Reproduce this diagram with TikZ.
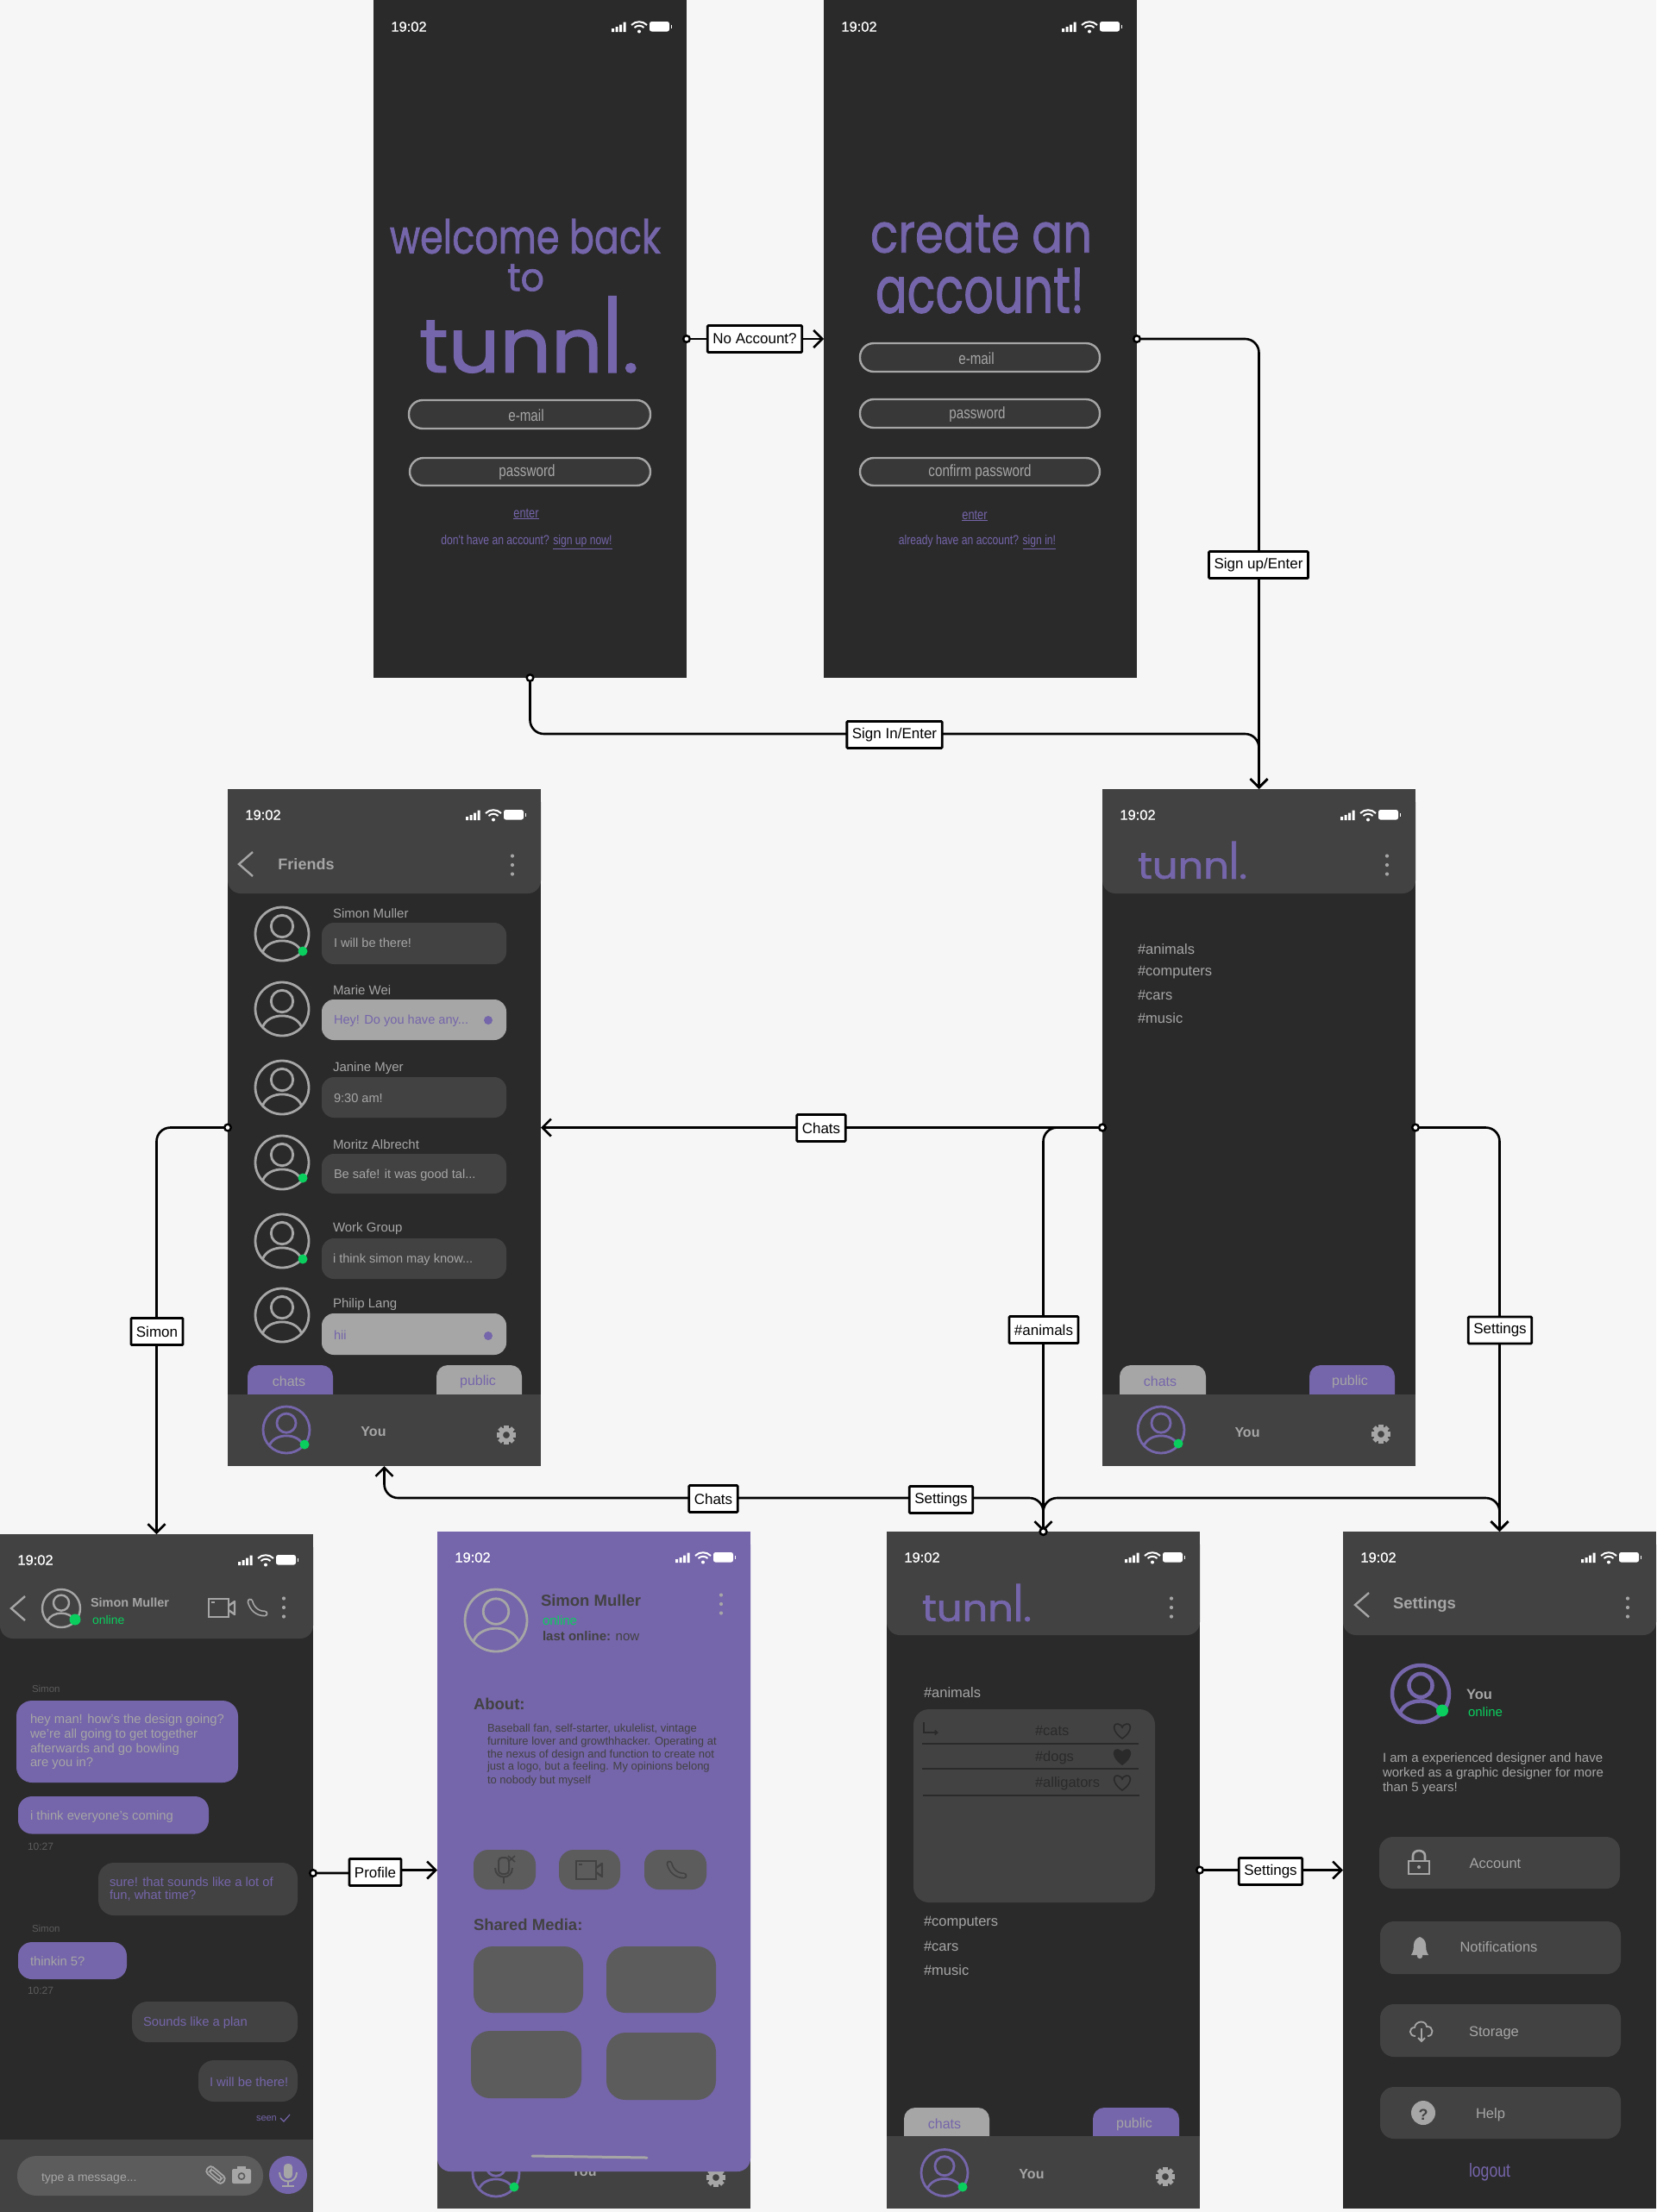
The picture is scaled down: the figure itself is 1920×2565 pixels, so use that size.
\documentclass[tikz,border=0pt]{standalone}
\usepackage{fontspec}
\usetikzlibrary{arrows.meta}
\setmainfont{Liberation Sans}
\newfontfamily\narrowf[FakeStretch=0.8]{Liberation Sans}
\newfontfamily\disp[FakeBold=1.5]{Poppins}
\newfontfamily\stf[FakeBold=0.6]{Liberation Sans}
\definecolor{bgc}{HTML}{F6F6F6}
\definecolor{cdk}{HTML}{2A2A2A}
\definecolor{cpn}{HTML}{424242}
\definecolor{cfd}{HTML}{383838}
\definecolor{cmd}{HTML}{5C5C5C}
\definecolor{cgr}{HTML}{A6A6A6}
\definecolor{pur}{HTML}{7565AA}
\definecolor{grn}{HTML}{0ACF5E}
\tikzset{
 phone/.style={anchor=north west,inner sep=0,outer sep=0,minimum width=363pt,fill=cdk},
 tx/.style={inner sep=0,outer sep=0,yshift=-1pt},
 fs/.style={font=\fontsize{#1}{#1}\selectfont},
 bfs/.style={font=\bfseries\fontsize{#1}{#1}\selectfont},
 nfs/.style={font=\narrowf\fontsize{#1}{#1}\selectfont},
 lf/.style={anchor=west},
 conn/.style={draw=black,line width=2.6pt,rounded corners=16pt,shorten <=-5pt,
   {Circle[open,fill=white,length=10pt,width=10pt,line width=2.4pt]}-{Straight Barb[length=10pt,width=20pt,line width=2.6pt]}},
 lab/.style={draw=black,fill=white,line width=2.8pt,rounded corners=1pt,inner xsep=6pt,inner ysep=0pt,minimum height=31pt,font=\fontsize{17}{17}\selectfont,text=black},
 fld/.style={fill=cfd,draw=cgr,line width=2.4pt,rounded corners=16pt},
}
\newcounter{tn}
\newcommand\T[3][]{\stepcounter{tn}\node[tx,#1] (t\thetn) at (#2) {#3};}
\newcommand\disptext[5]{\stepcounter{tn}\node[tx,yshift=1pt,text=pur] (t\thetn) at (#1,#2) {\resizebox{#3pt}{#4pt}{\disp #5}};}
\newcommand\logotext{tunn\scalebox{1}[1.36]{l}.}
\newcommand\undl[1]{$\underline{\hbox{#1}}$}
\newcommand\status[2]{%
 \T[font=\stf\fontsize{16.5}{16.5}\selectfont,text=white]{#1+41,#2+29}{19:02}
 \begin{scope}[shift={(#1,#2)}]
  \fill[white] (276,32) rectangle (279,36) (280.5,30) rectangle (283.5,36) (285,27.5) rectangle (288,36) (289.5,24.5) rectangle (292.5,36);
  \draw[white,line width=2pt] (299,28) .. controls (304,23) and (312,23) .. (317,28);
  \draw[white,line width=2pt] (302.5,31) .. controls (306,28) and (310,28) .. (313.5,31);
  \fill[white] (308,35.5) circle (2);
  \fill[white,rounded corners=2.5pt] (320,24) rectangle (343,35.5);
  \fill[white] (344.5,27.5) rectangle (346,32);
 \end{scope}}
\newcommand\hdr[3]{\fill[cpn,rounded corners=15pt] (#1,#2) rectangle ({#1+363},#3);\fill[cpn] (#1,#2) rectangle ({#1+363},{#2+30});}
\newcommand\ftr[3]{\fill[cpn] (#1,#2) rectangle ({#1+363},#3);}
\newcommand\tabb[4]{\fill[#4,rounded corners=13pt] (#1,#3) rectangle (#2,{#3+50});}
\newcommand\kebab[3]{\fill[#3] (#1,{#2-10.5}) circle (2.1) (#1,#2) circle (2.1) (#1,{#2+10.5}) circle (2.1);}
\newcommand\chev[2]{\draw[cgr,line width=2.4pt] ({#1+16},{#2-14}) -- (#1,#2) -- ({#1+16},{#2+14});}
\newcommand\avatar[5]{\begin{scope}[shift={(#1,#2)},x=#3pt,y=#3pt]
  \draw[#4,line width=#5pt] (0,0) circle (1);
  \draw[#4,line width=#5pt] (0,.29) ellipse (.41 and .41);
  \draw[#4,line width=#5pt] (-.72,-.66) .. controls (-.5,-.12) and (.5,-.12) .. (.72,-.66);
 \end{scope}}
\newcommand\grnd[3]{\fill[grn] (#1,#2) circle (#3);}
\newcommand\gear[2]{\begin{scope}[shift={(#1,#2)}]
  \draw[cgr,line width=4.6pt] (0,0) circle (6.2);
  \foreach \a in {0,45,...,315}{\fill[cgr,rotate=\a] (-2.6,6) rectangle (2.6,11.2);}
 \end{scope}}
\newcommand\heart[3]{\begin{scope}[shift={(#1,#2)}]
 \draw[cdk,line width=1.6pt,fill=#3] (0,9) .. controls (-12,1) and (-11,-9) .. (-5,-8) .. controls (-2,-8) and (0,-5) .. (0,-4) .. controls (0,-5) and (2,-8) .. (5,-8) .. controls (11,-9) and (12,1) .. (0,9) -- cycle;
 \end{scope}}
\newcommand\handset[4]{\begin{scope}[shift={(#1,#2)}]
 \draw[#3,line width=7pt,line cap=round] (-8,-7) .. controls (-6,1) and (0,7) .. (9,7);
 \draw[#4,line width=3.6pt,line cap=round] (-8,-7) .. controls (-6,1) and (0,7) .. (9,7);
 \end{scope}}
\newcommand\video[3]{\begin{scope}[shift={(#1,#2)}]
 \draw[#3,line width=2.4pt] (-15,-10) rectangle (8,11);
 \draw[#3,line width=2.4pt,line join=round] (8,-2) -- (15,-7) -- (15,8) -- (8,3);
 \draw[#3,line width=2pt] (-12,-6) -- (-8,-6);
 \end{scope}}
\begin{document}
\begin{tikzpicture}[x=1pt,y=-1pt]
\useasboundingbox (0,0) rectangle (1920,2565);
\fill[bgc] (0,0) rectangle (1920,2565);
% phones
\node[phone,minimum height=786pt] (pA) at (433,0) {};
\node[phone,minimum height=786pt] (pB) at (955,0) {};
\node[phone,minimum height=785pt] (pF) at (264,915) {};
\node[phone,minimum height=785pt] (pT) at (1278,915) {};
\node[phone,minimum height=786pt] (pC) at (0,1779) {};
\node[phone,minimum height=785pt,fill=cpn] (pP) at (507,1776) {};
\node[phone,minimum height=785pt] (pG) at (1028,1776) {};
\node[phone,minimum height=785pt] (pS) at (1557,1776) {};
%% Phone A
\status{433}{1}
\disptext{609}{274}{314}{40}{welcome back}
\disptext{609.5}{322}{43}{31}{to}
\disptext{613.5}{388}{255}{88}{\logotext}
\draw[fld] (474,464) rectangle (754,497);
\draw[fld] (475,531) rectangle (754,563);
\T[nfs=19,text=cgr]{610,481}{e-mail}
\T[nfs=19,text=cgr]{611,547}{password}
\T[nfs=16,text=pur]{610,595}{\undl{enter}}
\T[nfs=15.2,text=pur]{610.5,628}{don't have an account? \undl{sign up now!}}
%% Phone B
\status{955}{1}
\disptext{1137.5}{271.5}{257}{43}{create an}
\disptext{1136}{337}{242}{52}{account!}
\draw[fld] (997,398) rectangle (1275,431);
\draw[fld] (997,463) rectangle (1275,496);
\draw[fld] (997,531) rectangle (1275,563);
\T[nfs=19,text=cgr]{1132,415}{e-mail}
\T[nfs=19,text=cgr]{1133,480}{password}
\T[nfs=19,text=cgr]{1136,547}{confirm password}
\T[nfs=16,text=pur]{1130,597}{\undl{enter}}
\T[nfs=15.2,text=pur]{1133,628}{already have an account? \undl{sign in!}}
%% Phone F (friends)
\hdr{264}{915}{1036}
\status{264}{915}
\chev{277}{1002}
\T[bfs=18,text=cgr]{355,1001}{Friends}
\kebab{594}{1003}{cgr}
\foreach \yy in {1083,1170,1261,1348,1439,1525}{\avatar{327}{\yy}{31}{cgr}{2.8}}
\grnd{351}{1103}{5.5}\grnd{351}{1366}{5.5}\grnd{351}{1460}{5.5}
\T[fs=15,text=cgr,lf]{386,1058}{Simon Muller}
\T[fs=15,text=cgr,lf]{386,1147}{Marie Wei}
\T[fs=15,text=cgr,lf]{386,1238}{Janine Myer}
\T[fs=15,text=cgr,lf]{386,1326}{Moritz Albrecht}
\T[fs=15,text=cgr,lf]{386,1424}{Work Group}
\T[fs=15,text=cgr,lf]{386,1512}{Philip Lang}
\fill[cpn,rounded corners=14pt] (373,1070) rectangle (587,1118);
\fill[cgr,rounded corners=14pt] (373,1159) rectangle (587,1206);
\fill[cpn,rounded corners=14pt] (373,1249) rectangle (587,1296);
\fill[cpn,rounded corners=14pt] (373,1338) rectangle (587,1384);
\fill[cpn,rounded corners=14pt] (373,1436) rectangle (587,1483);
\fill[cgr,rounded corners=14pt] (373,1523) rectangle (587,1571);
\T[fs=14.6,text=cgr,lf]{387,1092}{I will be there!}
\T[fs=14.6,text=pur,lf]{387,1183}{Hey! Do you have any...}
\T[fs=14.6,text=cgr,lf]{387,1272}{9:30 am!}
\T[fs=14.6,text=cgr,lf]{387,1362}{Be safe! it was good tal...}
\T[fs=14.6,text=cgr,lf]{386,1460}{i think simon may know...}
\T[fs=14.6,text=pur,lf]{387,1547}{hii}
\fill[pur] (566,1183) circle (5) (566,1549) circle (5);
\tabb{287}{386}{1583}{pur}
\tabb{506}{605}{1583}{cgr}
\ftr{264}{1617}{1700}
\T[fs=16,text=cgr]{335,1601}{chats}
\T[fs=16,text=pur]{554,1601}{public}
\avatar{332}{1658}{27}{pur}{2.8}
\grnd{353}{1675}{5.5}
\T[bfs=16,text=cgr]{433,1659}{You}
\gear{587}{1664}
%% Phone T
\hdr{1278}{915}{1036}
\status{1278}{915}
\disptext{1382.5}{997.5}{127}{43}{\logotext}
\kebab{1608}{1003}{cgr}
\T[fs=16.5,text=cgr,lf]{1319,1100}{\#animals}
\T[fs=16.5,text=cgr,lf]{1319,1127}{\#computers}
\T[fs=16.5,text=cgr,lf]{1319,1153}{\#cars}
\T[fs=16.5,text=cgr,lf]{1319,1180}{\#music}
\tabb{1298}{1398}{1583}{cgr}
\tabb{1518}{1617}{1583}{pur}
\ftr{1278}{1617}{1700}
\T[fs=16,text=pur]{1345,1601}{chats}
\T[fs=16,text=cgr]{1565,1601}{public}
\avatar{1346}{1658}{27}{pur}{2.8}
\grnd{1366}{1674}{5.5}
\T[bfs=16,text=cgr]{1446,1660}{You}
\gear{1601}{1663}
%% Phone C (chat)
\hdr{0}{1779}{1900}
\status{0}{1779}
\chev{13}{1865}
\avatar{71}{1865}{22}{cgr}{2.4}
\grnd{87}{1878}{6.5}
\T[bfs=14.5,text=cgr,lf]{105,1857}{Simon Muller}
\T[fs=14,text=grn,lf]{107,1877.5}{online}
\video{257}{1864}{cgr}
\handset{298}{1864}{cgr}{cpn}
\kebab{329}{1864}{cgr}
\T[fs=11.5,text=cmd,lf]{37,1957}{Simon}
\fill[pur,rounded corners=18pt] (19,1972) rectangle (276,2067);
\T[fs=14.8,text=cgr,lf]{35,1994}{hey man! how's the design going?}
\T[fs=14.8,text=cgr,lf]{35,2011}{we're all going to get together}
\T[fs=14.8,text=cgr,lf]{35,2028}{afterwards and go bowling}
\T[fs=14.8,text=cgr,lf]{35,2044}{are you in?}
\fill[pur,rounded corners=16pt] (21,2083) rectangle (242,2126.5);
\T[fs=14.8,text=cgr,lf]{35,2106}{i think everyone's coming}
\T[fs=12,text=cmd,lf]{32,2140}{10:27}
\fill[cpn,rounded corners=18pt] (114,2160) rectangle (345,2221);
\T[fs=14.8,text=pur,lf]{127,2181}{sure! that sounds like a lot of}
\T[fs=14.8,text=pur,lf]{127,2197.5}{fun, what time?}
\T[fs=11.5,text=cmd,lf]{37,2235}{Simon}
\fill[pur,rounded corners=16pt] (21,2252) rectangle (147,2295);
\T[fs=14.8,text=cgr,lf]{35,2273}{thinkin 5?}
\T[fs=12,text=cmd,lf]{32,2307.5}{10:27}
\fill[cpn,rounded corners=18pt] (153,2321) rectangle (345,2368);
\T[fs=14.8,text=pur,lf]{166,2345}{Sounds like a plan}
\fill[cpn,rounded corners=18pt] (230,2389) rectangle (345,2437);
\T[fs=14.8,text=pur,lf]{243,2413}{I will be there!}
\T[fs=11,text=pur,lf]{297,2456}{seen}
\draw[pur,line width=1.2pt] (325,2456) -- (329,2460) -- (336,2452);
\fill[cpn] (0,2481) rectangle (363,2565);
\fill[cmd,rounded corners=22pt] (20,2500) rectangle (305,2546);
\T[fs=14,text=cgr,lf]{48,2525}{type a message...}
\begin{scope}[shift={(250,2522)},rotate=-40]
 \draw[cgr,line width=1.8pt,rounded corners=4pt] (-12,-5) rectangle (12,5);
 \draw[cgr,line width=1.6pt,rounded corners=2.5pt] (-8,-2) rectangle (8,2);
\end{scope}
\fill[cgr,rounded corners=2pt] (269,2515) rectangle (291,2532);
\fill[cgr] (275,2512) rectangle (285,2516);
\draw[cmd,line width=1.6pt] (280,2523.5) circle (3.6);
\fill[pur] (334,2522) circle (22);
\begin{scope}[shift={(334,2522)}]
 \fill[cgr,rounded corners=4pt] (-5,-13) rectangle (5,4);
 \draw[cgr,line width=2pt] (-10,-3) .. controls (-10,11) and (10,11) .. (10,-3);
 \draw[cgr,line width=2pt] (0,8) -- (0,13) (-7,13) -- (7,13);
\end{scope}
%% Phone P (profile)
\avatar{575}{2520}{27}{pur}{2.8}
\grnd{596}{2536}{5.5}
\T[bfs=16,text=cgr]{677,2517}{You}
\gear{830}{2525}
\fill[pur,rounded corners=15pt] (507,1776) rectangle (870,2518);
\fill[pur] (507,1776) rectangle (870,1806);
\status{507}{1776}
\avatar{575}{1879}{36}{cgr}{2.8}
\T[bfs=18.5,text=cpn,lf]{627,1855}{Simon Muller}
\T[fs=15,text=grn,lf]{629,1878}{online}
\T[fs=15,text=cpn,lf]{629,1896}{\textbf{last online:} now}
\kebab{836}{1860}{cgr}
\T[bfs=18.5,text=cpn,lf]{549,1975}{About:}
\T[fs=13,text=cpn,lf]{565,2004}{Baseball fan, self-starter, ukulelist, vintage}
\T[fs=13,text=cpn,lf]{565,2019}{furniture lover and growthhacker. Operating at}
\T[fs=13,text=cpn,lf]{565,2034}{the nexus of design and function to create not}
\T[fs=13,text=cpn,lf]{565,2048}{just a logo, but a feeling. My opinions belong}
\T[fs=13,text=cpn,lf]{565,2064}{to nobody but myself}
\fill[cmd,rounded corners=17pt] (549,2145) rectangle (621,2191);
\fill[cmd,rounded corners=17pt] (648,2145) rectangle (719,2191);
\fill[cmd,rounded corners=17pt] (747,2145) rectangle (819,2191);
\begin{scope}[shift={(584,2168)}]
 \draw[cpn,line width=2pt,rounded corners=4pt] (-6,-14) rectangle (6,5);
 \draw[cpn,line width=2pt] (-10,-2) .. controls (-10,12) and (10,12) .. (10,-2);
 \draw[cpn,line width=2pt] (0,9) -- (0,16);
 \draw[cpn,line width=1.6pt] (5,-16) -- (13,-9) (13,-16) -- (5,-9);
\end{scope}
\video{683}{2168}{cpn}
\handset{784}{2168}{cpn}{cmd}
\T[bfs=18.5,text=cpn,lf]{549,2231}{Shared Media:}
\fill[cmd,rounded corners=22pt] (549,2257) rectangle (676,2334);
\fill[cmd,rounded corners=22pt] (703,2257) rectangle (830,2334);
\fill[cmd,rounded corners=22pt] (546,2355) rectangle (674,2433);
\fill[cmd,rounded corners=22pt] (703,2357) rectangle (830,2435);
\draw[cgr,line width=3pt,line cap=round] (617,2500) -- (750,2502);
%% Phone G
\hdr{1028}{1776}{1896}
\status{1028}{1776}
\disptext{1132.5}{1858.5}{127}{43}{\logotext}
\kebab{1358}{1864}{cgr}
\T[fs=16.5,text=cgr,lf]{1071,1962}{\#animals}
\fill[cpn,rounded corners=18pt] (1059,1982) rectangle (1339,2206);
\draw[cdk,line width=1.6pt,-{Straight Barb[length=3pt,width=5pt]}] (1071,1997) -- (1071,2009) -- (1088,2009);
\T[fs=16.5,text=cdk,lf]{1200,2006}{\#cats}
\T[fs=16.5,text=cdk,lf]{1200,2037}{\#dogs}
\T[fs=16.5,text=cdk,lf]{1200,2067}{\#alligators}
\heart{1301}{2007}{cpn}
\heart{1301}{2037}{cdk}
\heart{1301}{2067}{cpn}
\draw[cdk,line width=1.2pt] (1069,2022) -- (1320,2022) (1069,2051) -- (1320,2051) (1070,2082) -- (1321,2082);
\T[fs=16.5,text=cgr,lf]{1071,2229}{\#computers}
\T[fs=16.5,text=cgr,lf]{1071,2256}{\#cars}
\T[fs=16.5,text=cgr,lf]{1071,2284}{\#music}
\tabb{1048}{1147}{2444}{cgr}
\tabb{1267}{1367}{2444}{pur}
\ftr{1028}{2477}{2561}
\T[fs=16,text=pur]{1095,2462}{chats}
\T[fs=16,text=cgr]{1315,2462}{public}
\avatar{1095}{2519.5}{27}{pur}{2.8}
\grnd{1116}{2536}{5.5}
\T[bfs=16,text=cgr]{1196,2520}{You}
\gear{1351}{2524}
%% Phone S
\hdr{1557}{1776}{1896}
\status{1557}{1776}
\chev{1571}{1861}
\T[bfs=18.5,text=cgr,lf]{1615,1860}{Settings}
\kebab{1887}{1864}{cgr}
\avatar{1647}{1964}{33}{pur}{4.5}
\grnd{1672}{1983.5}{7}
\T[bfs=16.5,text=cgr,lf]{1700,1964}{You}
\T[fs=15,text=grn,lf]{1702,1984}{online}
\T[fs=15,text=cgr,lf]{1603,2039}{I am a experienced designer and have}
\T[fs=15,text=cgr,lf]{1603,2055.5}{worked as a graphic designer for more}
\T[fs=15,text=cgr,lf]{1603,2073}{than 5 years!}
\fill[cpn,rounded corners=16pt] (1599,2130) rectangle (1878,2190);
\fill[cpn,rounded corners=16pt] (1600,2228) rectangle (1879,2289);
\fill[cpn,rounded corners=16pt] (1600,2324) rectangle (1879,2385);
\fill[cpn,rounded corners=16pt] (1600,2420) rectangle (1879,2480);
\T[fs=16.5,text=cgr]{1733.5,2160}{Account}
\T[fs=16.5,text=cgr]{1737.5,2257}{Notifications}
\T[fs=16.5,text=cgr]{1732,2356}{Storage}
\T[fs=16.5,text=cgr]{1728,2451}{Help}
\begin{scope}[shift={(1645,2160)}]
 \draw[cgr,line width=2.6pt] (-12,-2) rectangle (12,13);
 \draw[cgr,line width=2.6pt] (-7,-2) -- (-7,-8) .. controls (-7,-16) and (7,-16) .. (7,-8) -- (7,-2);
 \fill[cgr] (0,5) circle (2);
\end{scope}
\begin{scope}[shift={(1646,2258)}]
 \fill[cgr] (-10,9) .. controls (-7,4) and (-7,1) .. (-7,-3) .. controls (-7,-8) and (-3,-11) .. (0,-12) .. controls (3,-11) and (7,-8) .. (7,-3) .. controls (7,1) and (7,4) .. (10,9) -- cycle;
 \fill[cgr] (0,10) circle (3.2);
\end{scope}
\begin{scope}[shift={(1648,2355)}]
 \draw[cgr,line width=1.8pt] (-7,6) .. controls (-15,6) and (-15,-4) .. (-8,-4) .. controls (-7,-12) and (5,-13) .. (6,-5) .. controls (14,-6) and (15,6) .. (7,6);
 \draw[cgr,line width=1.8pt] (0,-3) -- (0,12) (-4,8) -- (0,12) -- (4,8);
\end{scope}
\fill[cgr] (1650,2450) circle (14);
\T[bfs=18,text=cpn]{1650,2451}{?}
\T[nfs=22,text=pur]{1727,2518}{logout}
%% connectors
\draw[conn] (pA.east) -- (pB.west);
\draw[conn] (pB.east) -| (pT.north);
\draw[conn] (pA.south) -- ++(0,65) -| (pT.north);
\draw[conn] (pT.west) -- (pF.east);
\draw[conn] (pT.west) -- ++(-68,0) -| (pG.north);
\draw[conn] (pT.east) -| (pS.north);
\draw[conn] (pF.west) -| (pC.north);
\draw[conn] (pG.north) -- ++(0,-39) -| (pF.south);
\draw[conn] (pG.north) -- ++(0,-39) -| (pS.north);
\draw[conn] (pC.east) -- ++(72,0) -- ++(0,-3.5) -- (pP.west);
\draw[conn] (pG.east) -- (pS.west);
%% connector labels
\node[lab] (lNo) at (875,393) {No Account?};
\node[lab] (lUp) at (1459,655) {Sign up/Enter};
\node[lab] (lIn) at (1037,852) {Sign In/Enter};
\node[lab] (lCh) at (952,1308) {Chats};
\node[lab] (lAn) at (1210,1542) {\#animals};
\node[lab] (lSe) at (1739,1542.5) {Settings};
\node[lab] (lSi) at (182,1544) {Simon};
\node[lab] (lCb) at (827,1738) {Chats};
\node[lab] (lSb) at (1091,1739) {Settings};
\node[lab] (lPr) at (435,2171) {Profile};
\node[lab] (lSc) at (1473,2170) {Settings};
\end{tikzpicture}
\end{document}
